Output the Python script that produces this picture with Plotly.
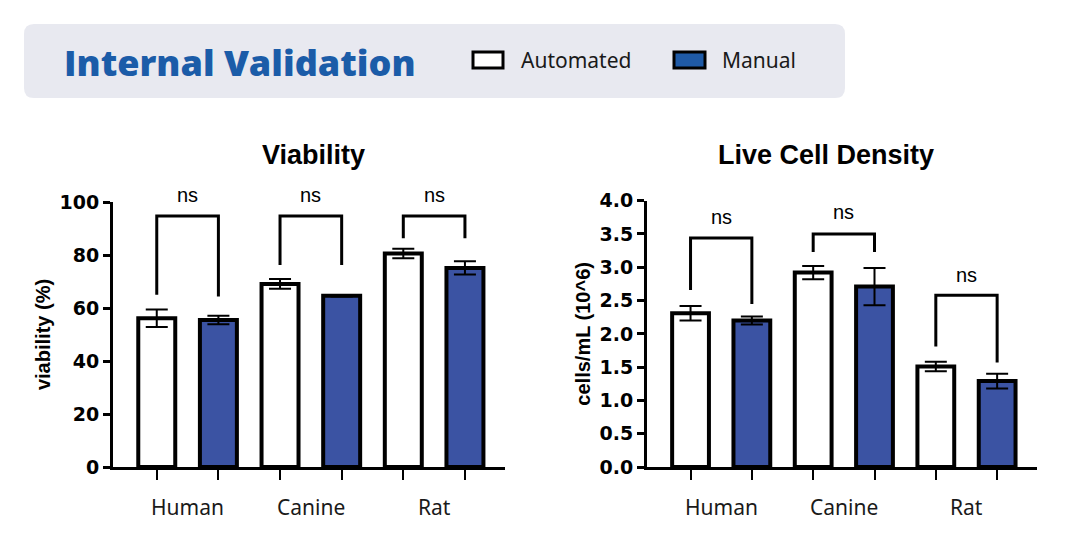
import plotly.graph_objects as go

W, H = 1080, 548

# ---------------- data ----------------
categories = ["Human", "Canine", "Rat"]
series_names = ["Automated", "Manual"]

viability_auto = [56.1, 69.1, 80.6]
viability_auto_sd = [3.3, 1.8, 1.8]
viability_manual = [55.5, 64.6, 75.1]
viability_manual_sd = [1.6, 0.3, 2.5]

density_auto = [2.31, 2.92, 1.51]
density_auto_sd = [0.11, 0.10, 0.07]
density_manual = [2.20, 2.71, 1.29]
density_manual_sd = [0.06, 0.28, 0.11]

# significance brackets: top, left-leg bottom, right-leg bottom, label height
via_br_top = [94.7, 94.7, 94.7]
via_br_left = [65.0, 76.2, 86.3]
via_br_right = [64.3, 76.2, 86.3]
via_ns_y = [102.6, 102.6, 102.6]
den_br_top = [3.44, 3.50, 2.58]
den_br_left = [2.66, 3.23, 1.81]
den_br_right = [2.45, 3.23, 1.57]
den_ns_y = [3.76, 3.83, 2.89]
sig_labels = ["ns", "ns", "ns"]

via_ticks = [0, 20, 40, 60, 80, 100]
via_range = [0, 100]
den_ticks = [0.0, 0.5, 1.0, 1.5, 2.0, 2.5, 3.0, 3.5, 4.0]
den_range = [0, 4]

# ---------------- style ----------------
BLUE_BAR = "#3b53a3"
BLUE_TXT = "#1b5ca8"
BLUE_LEG = "#1f5aa6"
HDR_BG = "#e8e9f0"
BAR_W = 0.6


def px(x):
    return x / W


def py(y):
    return 1 - y / H


auto_x = [2 * i for i in range(len(categories))]
man_x = [2 * i + 1 for i in range(len(categories))]
cat_x = [2 * i + 0.5 for i in range(len(categories))]

fig = go.Figure()


def add_panel(xa, ya, auto, auto_sd, man, man_sd, top, left, right):
    fig.add_trace(go.Bar(
        x=auto_x, y=auto, width=BAR_W, xaxis=xa, yaxis=ya, name=series_names[0],
        marker=dict(color="white", line=dict(color="black", width=4)),
        error_y=dict(type="data", array=auto_sd, color="black", thickness=2, width=11),
        showlegend=False, hoverinfo="skip"))
    fig.add_trace(go.Bar(
        x=man_x, y=man, width=BAR_W, xaxis=xa, yaxis=ya, name=series_names[1],
        marker=dict(color=BLUE_BAR, line=dict(color="black", width=4)),
        error_y=dict(type="data", array=man_sd, color="black", thickness=2, width=11),
        showlegend=False, hoverinfo="skip"))
    for i in range(len(categories)):
        fig.add_trace(go.Scatter(
            x=[auto_x[i], auto_x[i], man_x[i], man_x[i]],
            y=[left[i], top[i], top[i], right[i]],
            mode="lines", line=dict(color="black", width=3),
            xaxis=xa, yaxis=ya, showlegend=False, hoverinfo="skip"))


add_panel("x", "y", viability_auto, viability_auto_sd, viability_manual,
          viability_manual_sd, via_br_top, via_br_left, via_br_right)
add_panel("x2", "y2", density_auto, density_auto_sd, density_manual,
          density_manual_sd, den_br_top, den_br_left, den_br_right)

tick_font = dict(family="DejaVu Sans", size=19, color="black", weight="bold")
ytitle_font = dict(family="Liberation Sans", size=20, color="black", weight="bold")
common_x = dict(range=[-0.71, 5.65], showline=True, linecolor="black", linewidth=3,
                tickmode="array", tickvals=auto_x + man_x,
                ticktext=[""] * (2 * len(categories)), ticks="outside",
                ticklen=10, tickwidth=2, tickcolor="black", showgrid=False,
                zeroline=False, fixedrange=True)
common_y = dict(showline=True, linecolor="black", linewidth=3, ticks="outside",
                ticklen=7, tickwidth=3, tickcolor="black", showgrid=False,
                zeroline=False, tickfont=tick_font, fixedrange=True)

fig.update_layout(
    width=W, height=H, margin=dict(l=0, r=0, t=0, b=0, autoexpand=False),
    paper_bgcolor="white", plot_bgcolor="white", barmode="overlay",
    xaxis=dict(domain=[px(113), px(505)], anchor="y", **common_x),
    yaxis=dict(domain=[py(467), py(202)], anchor="x", range=via_range,
               tickvals=via_ticks,
               title=dict(text="viability (%)", standoff=4, font=ytitle_font),
               **common_y),
    xaxis2=dict(domain=[px(647), px(1037)], anchor="y2", **common_x),
    yaxis2=dict(domain=[py(467), py(200.7)], anchor="x2", range=den_range,
                tickvals=den_ticks, tickformat=".1f",
                title=dict(text="cells/mL (10^6)", standoff=4, font=ytitle_font),
                **common_y),
)

ann = []
# significance labels (placed through each y axis' scale, as fraction of its domain)
for xr, yr, ys, rng in (("x", "y domain", via_ns_y, via_range),
                        ("x2", "y2 domain", den_ns_y, den_range)):
    for i in range(len(categories)):
        ann.append(dict(x=cat_x[i], y=(ys[i] - rng[0]) / (rng[1] - rng[0]),
                        xref=xr, yref=yr, text=sig_labels[i],
                        showarrow=False, xanchor="center", yanchor="middle",
                        font=dict(family="Liberation Sans", size=20, color="black")))
    for i, c in enumerate(categories):
        ann.append(dict(x=cat_x[i], y=py(507), xref=xr, yref="paper", text=c,
                        showarrow=False, xanchor="center", yanchor="middle",
                        font=dict(family="Noto Sans", size=21, color="#1a1a1a")))

# panel titles
ann.append(dict(x=px(313), y=py(155), xref="paper", yref="paper", text="Viability",
                showarrow=False, xanchor="center", yanchor="middle",
                font=dict(family="Liberation Sans", size=27, color="black", weight="bold")))
ann.append(dict(x=px(826), y=py(155), xref="paper", yref="paper", text="Live Cell Density",
                showarrow=False, xanchor="center", yanchor="middle",
                font=dict(family="Liberation Sans", size=27, color="black", weight="bold")))

# header
ann.append(dict(x=px(62), y=py(62), xref="paper", yref="paper", text="Internal Validation",
                showarrow=False, xanchor="left", yanchor="middle",
                font=dict(family="Open Sans", size=36, color=BLUE_TXT, weight=800)))
ann.append(dict(x=px(519), y=py(60), xref="paper", yref="paper", text=series_names[0],
                showarrow=False, xanchor="left", yanchor="middle",
                font=dict(family="Noto Sans", size=21, color="#1a1a1a")))
ann.append(dict(x=px(720), y=py(60), xref="paper", yref="paper", text=series_names[1],
                showarrow=False, xanchor="left", yanchor="middle",
                font=dict(family="Noto Sans", size=21, color="#1a1a1a")))

fig.update_layout(annotations=ann)

# header background (rounded rectangle)
x0, x1, y0, y1 = px(24), px(845), py(98), py(24)
rx, ry = 10 / W, 10 / H
path = (f"M {x0+rx},{y0} L {x1-rx},{y0} Q {x1},{y0} {x1},{y0+ry} "
        f"L {x1},{y1-ry} Q {x1},{y1} {x1-rx},{y1} L {x0+rx},{y1} "
        f"Q {x0},{y1} {x0},{y1-ry} L {x0},{y0+ry} Q {x0},{y0} {x0+rx},{y0} Z")
shapes = [dict(type="path", path=path, xref="paper", yref="paper",
               fillcolor=HDR_BG, line=dict(width=0), layer="below")]
shapes.append(dict(type="rect", xref="paper", yref="paper",
                   x0=px(473), x1=px(503), y0=py(68), y1=py(52),
                   fillcolor="white", line=dict(color="black", width=3)))
shapes.append(dict(type="rect", xref="paper", yref="paper",
                   x0=px(674), x1=px(705), y0=py(68), y1=py(52),
                   fillcolor=BLUE_LEG, line=dict(color="black", width=3)))
fig.update_layout(shapes=shapes)

fig.write_html("out.html")
